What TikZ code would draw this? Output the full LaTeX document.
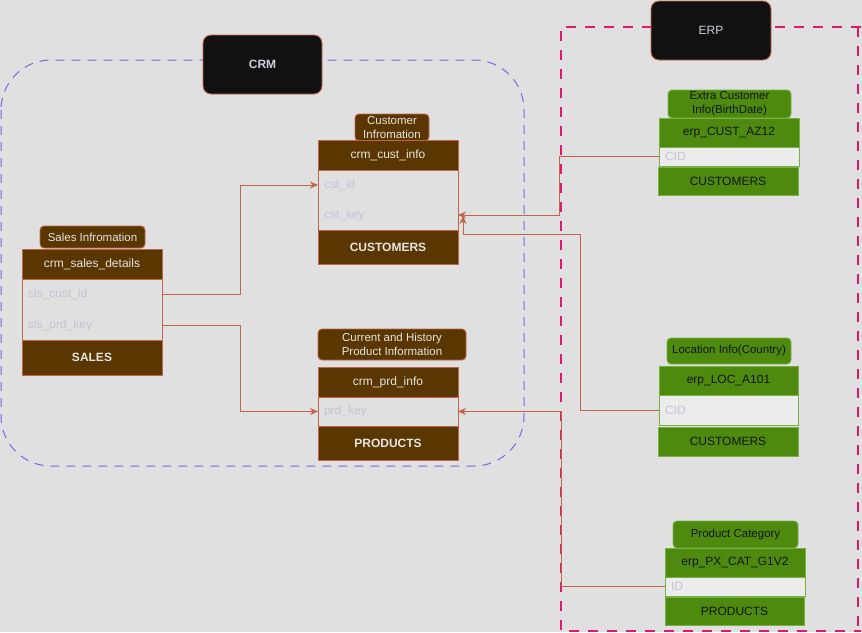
\documentclass[tikz,border=0pt]{standalone}
\usepackage{fontspec}
\setmainfont{Liberation Sans}
\usetikzlibrary{arrows.meta}
\definecolor{bgc}{HTML}{E0E0E0}
\definecolor{brn}{HTML}{5A3700}
\definecolor{brd}{HTML}{C0654B}
\definecolor{hdt}{HTML}{E4E4E4}
\definecolor{fldc}{HTML}{C4C4D6}
\definecolor{grn}{HTML}{4D8A0E}
\definecolor{grd}{HTML}{78B048}
\definecolor{gtx}{HTML}{141414}
\definecolor{wbody}{HTML}{ECECEC}
\definecolor{crmc}{HTML}{7468E4}
\definecolor{erpc}{HTML}{E0196E}
\definecolor{blk}{HTML}{111111}
\definecolor{blt}{HTML}{D0D0DC}
\newcommand{\dfont}{\fontsize{12}{13.5}\selectfont}
\tikzset{
  base/.style={anchor=north west, inner sep=0pt, outer sep=0pt, font=\dfont},
  bhead/.style={base, draw=brd, fill=brn, text=hdt, line width=0.9pt},
  bbody/.style={base, draw=brd, fill=bgc, line width=0.9pt},
  bfoot/.style={bhead, font=\dfont\bfseries},
  blab/.style={base, draw=brd, fill=brn, text=hdt, rounded corners=4pt, align=center, line width=0.9pt, font=\fontsize{11.5}{14}\selectfont},
  ghead/.style={base, draw=grd, fill=grn, text=gtx, line width=0.9pt},
  gbody/.style={base, draw=grd, fill=wbody, line width=0.9pt},
  glab/.style={base, draw=grd, fill=grn, text=gtx, rounded corners=4pt, align=center, line width=0.9pt, font=\fontsize{11.5}{14}\selectfont},
  fld/.style={base, text=fldc, align=left, inner xsep=6pt},
  sysbox/.style={base, draw=brd, fill=blk, text=blt, rounded corners=8pt, line width=0.9pt},
  conn/.style={draw=brd, line width=0.9pt, -{Stealth[length=8pt,width=7pt,inset=2.5pt]}},
}
\begin{document}
\begin{tikzpicture}[x=1pt,y=-1pt]
\useasboundingbox[fill=bgc] (0,0) rectangle (862,632);
% frames
\draw[crmc, dash pattern=on 9pt off 7pt, line width=1pt, rounded corners=50pt] (1,60) rectangle (524,466);
\draw[erpc, dash pattern=on 10pt off 9pt, line width=1.3pt] (861,27) -- (561,27) -- (561,631) -- (861,631);
\draw[erpc, dash pattern=on 10pt off 9pt, line width=1.3pt] (858,27) -- (858,631);
% system boxes
\node[sysbox, minimum width=119pt, minimum height=59pt, font=\dfont\bfseries] (crm) at (203,35) {CRM};
\node[sysbox, minimum width=120pt, minimum height=59pt] (erp) at (651,1) {ERP};
% CRM customer
\node[blab, minimum width=74pt, minimum height=27pt] (clab) at (355,114) {Customer\\Infromation};
\node[bhead, minimum width=140pt, minimum height=30pt] (chead) at (318,140) {crm\_cust\_info};
\node[bbody, minimum width=140pt, minimum height=60pt] (cbody) at (318,170) {};
\node[fld, text width=128pt, minimum height=30pt] (cid) at (318,170) {cst\_id};
\node[fld, text width=128pt, minimum height=30pt] (ckey) at (318,200) {cst\_key};
\node[bfoot, minimum width=140pt, minimum height=34pt] (cfoot) at (318,230) {CUSTOMERS};
% CRM sales
\node[blab, minimum width=105pt, minimum height=22pt] (slab) at (40,226) {Sales Infromation};
\node[bhead, minimum width=140pt, minimum height=30pt] (shead) at (22,249) {crm\_sales\_details};
\node[bbody, minimum width=140pt, minimum height=61pt] (sbody) at (22,279) {};
\node[fld, text width=128pt, minimum height=30pt] (scid) at (22,279) {sls\_cust\_id};
\node[fld, text width=128pt, minimum height=30pt] (spk) at (22,310) {sls\_prd\_key};
\node[bfoot, minimum width=140pt, minimum height=35pt] (sfoot) at (22,340) {SALES};
% CRM products
\node[blab, minimum width=148pt, minimum height=31pt] (plab) at (318,329) {Current and History\\Product Information};
\node[bhead, minimum width=140pt, minimum height=30pt] (phead) at (318,367) {crm\_prd\_info};
\node[bbody, minimum width=140pt, minimum height=29pt] (pbody) at (318,397) {};
\node[fld, text width=128pt, minimum height=29pt] (pkey) at (318,397) {prd\_key};
\node[bfoot, minimum width=140pt, minimum height=34pt] (pfoot) at (318,426) {PRODUCTS};
% ERP customer
\node[glab, minimum width=123pt, minimum height=28pt] (eclab) at (668,90) {Extra Customer\\Info(BirthDate)};
\node[ghead, minimum width=140pt, minimum height=29pt] (echead) at (659,118) {erp\_CUST\_AZ12};
\node[gbody, minimum width=140pt, minimum height=19pt] (ecbody) at (659,147) {};
\node[fld, text width=128pt, minimum height=19pt] (ecid) at (659,147) {CID};
\node[ghead, minimum width=140pt, minimum height=28pt] (ecfoot) at (658,167) {CUSTOMERS};
% ERP location
\node[glab, minimum width=124pt, minimum height=26pt] (llab) at (667,338) {Location Info(Country)};
\node[ghead, minimum width=139pt, minimum height=29pt] (lhead) at (659,366) {erp\_LOC\_A101};
\node[gbody, minimum width=139pt, minimum height=30pt] (lbody) at (659,395) {};
\node[fld, text width=127pt, minimum height=30pt] (lcid) at (659,395) {CID};
\node[ghead, minimum width=140pt, minimum height=29pt] (lfoot) at (658,427) {CUSTOMERS};
% ERP product category
\node[glab, minimum width=125pt, minimum height=27pt] (pclab) at (673,521) {Product Category};
\node[ghead, minimum width=140pt, minimum height=29pt] (pchead) at (665,548) {erp\_PX\_CAT\_G1V2};
\node[gbody, minimum width=140pt, minimum height=19pt] (pcbody) at (665,577) {};
\node[fld, text width=128pt, minimum height=19pt] (pcid) at (665,577) {ID};
\node[ghead, minimum width=139pt, minimum height=28pt] (pcfoot) at (665,597) {PRODUCTS};
% connectors
\draw[conn] (scid.east) -- ++(78,0) |- (cid.west);
\draw[conn] (spk.east) -- ++(78,0) |- (pkey.west);
\draw[conn] (ecid.west) -- ++(-100,0) |- (ckey.east);
\draw[conn] (lcid.west) -- ++(-79,0) |- ([xshift=5pt,yshift=-19pt]ckey.east) -- ([xshift=5pt,yshift=-1pt]ckey.east);
\draw[conn] (pcid.west) -- ++(-104,0) |- (pkey.east);
\end{tikzpicture}
\end{document}
